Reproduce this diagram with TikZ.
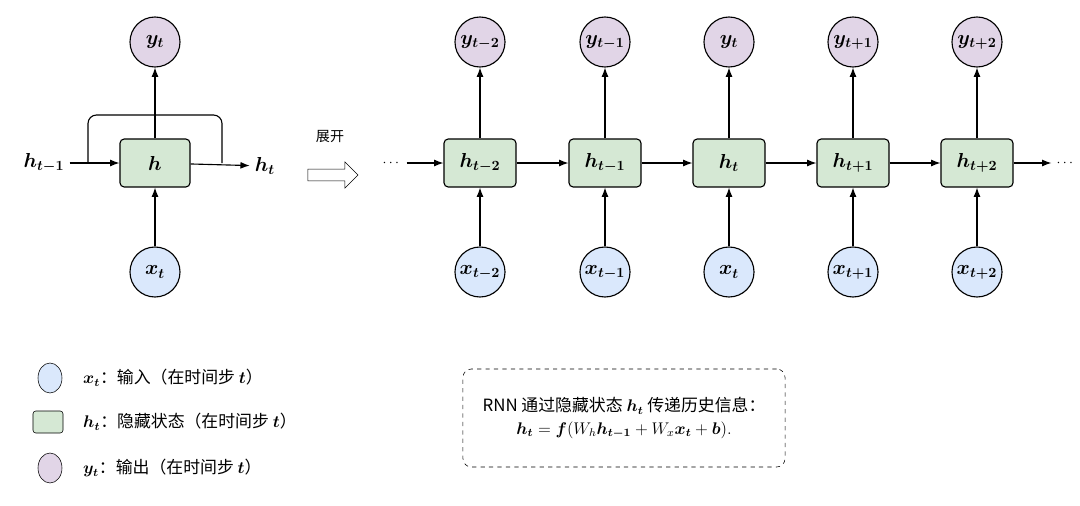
\documentclass[tikz,border=0pt]{standalone}
\usepackage{amsmath,amssymb,bm}
\usepackage{fontspec}
\newfontfamily\cjk{Noto Sans CJK SC}
\usetikzlibrary{arrows.meta, positioning, shapes.arrows, shapes.geometric}
\definecolor{inblue}{HTML}{DAE8FC}
\definecolor{hidgreen}{HTML}{D5E8D4}
\definecolor{outpurple}{HTML}{E1D5E7}
\begin{document}
\begin{tikzpicture}[x=0.025cm, y=-0.025cm,
      cell/.style={draw, rounded corners=3pt, fill=hidgreen, minimum width=1.8cm, minimum height=1.2cm, font=\Large},
      inp/.style={draw, circle, fill=inblue, minimum size=1.25cm, inner sep=0pt, font=\Large},
      outp/.style={draw, circle, fill=outpurple, minimum size=1.25cm, inner sep=0pt, font=\Large},
      >=Latex, thick
    ]
    \useasboundingbox (0,0) rectangle (1080,506);
    % folded cell
    \node[cell, minimum width=1.75cm] (h) at (155,163) {$\bm{h}$};
    \node[outp] (y) at (155,42) {$\bm{y_t}$};
    \node[inp] (x) at (155,272) {$\bm{x_t}$};
    \node[font=\Large] (hin) at (44,163) {$\bm{h_{t-1}}$};
    \node[font=\Large] (hout) at (265,166) {$\bm{h_t}$};
    \draw[->] (hin) -- (h);
    \draw[->] (h) -- (hout);
    \draw[->] (x) -- (h);
    \draw[->] (h) -- (y);
    \draw[rounded corners=6pt] (88,163) -- (88,115) -- (222,115) -- (222,163);
    % unroll arrow
    \node[draw, single arrow, thin, minimum width=0.65cm, single arrow head extend=0.15cm, minimum height=1.25cm] (unroll) at (330,175) {};
    \node[font=\cjk] (unrolltxt) at (330,137) {展开};
    % unrolled chain
    \node (dl) at (392,163) {$\cdots$};
    \node (dr) at (1066,163) {$\cdots$};
    \foreach \i/\cx/\sub in {1/480/{t-2}, 2/605/{t-1}, 3/729/{t}, 4/853/{t+1}, 5/977/{t+2}} {
      \node[cell] (h\i) at (\cx,163) {$\bm{h_{\sub}}$};
      \node[outp] (y\i) at (\cx,42) {$\bm{y_{\sub}}$};
      \node[inp] (x\i) at (\cx,272) {$\bm{x_{\sub}}$};
      \draw[->] (x\i) -- (h\i);
      \draw[->] (h\i) -- (y\i);
    }
    \draw[->] (dl) -- (h1);
    \foreach \a/\b in {1/2, 2/3, 3/4, 4/5} \draw[->] (h\a) -- (h\b);
    \draw[->] (h5) -- (dr);
    % legend
    \node[draw, thin, ellipse, fill=inblue, minimum width=0.6cm, minimum height=0.75cm] (lx) at (50,378) {};
    \node[draw, thin, rounded corners=2pt, fill=hidgreen, minimum width=0.75cm, minimum height=0.55cm] (lh) at (48,422) {};
    \node[draw, thin, ellipse, fill=outpurple, minimum width=0.6cm, minimum height=0.75cm] (ly) at (50,468) {};
    \node[anchor=west, font=\cjk\large] (lxt) at (78,378) {$\bm{x_t}$：输入（在时间步 $\bm{t}$）};
    \node[anchor=west, font=\cjk\large] (lht) at (78,422) {$\bm{h_t}$：隐藏状态（在时间步 $\bm{t}$）};
    \node[anchor=west, font=\cjk\large] (lyt) at (78,468) {$\bm{y_t}$：输出（在时间步 $\bm{t}$）};
    % formula box
    \node[draw, thin, dashed, rounded corners=6pt, minimum width=8.05cm, minimum height=2.45cm, align=center, font=\cjk\large] (formula) at (624,418)
      {RNN 通过隐藏状态 $\bm{h_t}$ 传递历史信息：\\[2pt] $\bm{h_t} = \bm{f}(W_h\bm{h_{t-1}} + W_x\bm{x_t} + \bm{b}).$};
  \end{tikzpicture}
\end{document}
